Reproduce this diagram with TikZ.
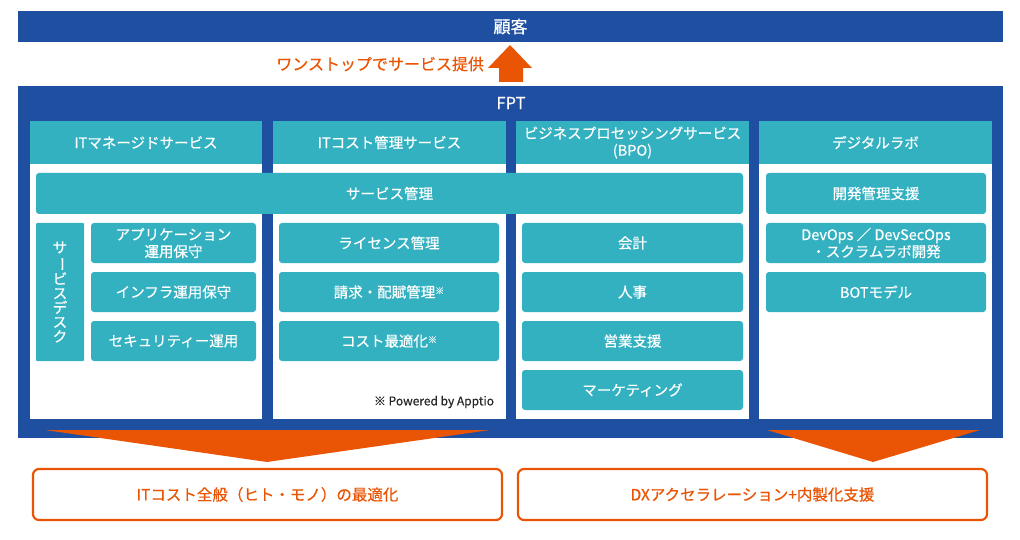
\documentclass[tikz,border=0pt]{standalone}
\usepackage{fontspec}
\usepackage{graphicx}
\setmainfont[FakeBold=0.5]{Noto Sans CJK JP}
\definecolor{fptblue}{HTML}{1F4FA0}
\definecolor{fptteal}{HTML}{33B1C1}
\definecolor{fptorange}{HTML}{E95504}
\newcommand\bx[7]{%
  \pgfmathsetmacro\bxcx{(#3+#5)/2}%
  \pgfmathsetmacro\bxcy{(#4+#6)/2}%
  \pgfmathsetmacro\bxw{#5-#3}%
  \pgfmathsetmacro\bxh{#6-#4}%
  \node[#2, minimum width=\bxw pt, minimum height=\bxh pt] (#1) at (\bxcx,\bxcy) {#7};}
\newcommand\kome{\raisebox{0.45ex}{\fontsize{9}{9}\selectfont ※}}
\tikzset{
  base/.style={inner sep=0pt, outer sep=0pt, align=center},
  bluebar/.style={base, fill=fptblue, text=white, font=\fontsize{17}{19}\selectfont},
  whitecol/.style={base, fill=white},
  header/.style={base, fill=fptteal, text=white, font=\fontsize{14.5}{17}\selectfont},
  tbox/.style={base, fill=fptteal, rounded corners=3pt, text=white, font=\fontsize{14.5}{17}\selectfont},
  resultbox/.style={base, draw=fptorange, line width=2.2pt, rounded corners=6pt, fill=white, text=fptorange, font=\fontsize{15.5}{17}\selectfont},
  orangeshape/.style={fill=fptorange}
}
\begin{document}
\begin{tikzpicture}[x=1pt,y=-1pt]
\useasboundingbox (0,0) rectangle (1020,540);
% customer bar
\bx{kokyaku}{bluebar}{18}{11}{1003}{42}{顧客}
% FPT frame
\bx{fpt}{base, fill=fptblue}{18}{86}{1003}{438}{}
\node[base, text=white, font=\fontsize{16.5}{18}\selectfont] (fpttxt) at (511,103) {FPT};
% up arrow
\draw[orangeshape, draw=none] (499,82) -- (499,68) -- (488,68) -- (510,45) -- (532,68) -- (523,68) -- (523,82) -- cycle;
\node[base, anchor=east, text=fptorange, font=\fontsize{16}{18}\selectfont] (onestop) at (484,64) {ワンストップでサービス提供};
% columns
\bx{col1}{whitecol}{30}{121}{262}{419}{}
\bx{col2}{whitecol}{273}{121}{506}{419}{}
\bx{col3}{whitecol}{516}{121}{749}{419}{}
\bx{col4}{whitecol}{759}{121}{992}{419}{}
\bx{h1}{header}{30}{121}{262}{164}{ITマネージドサービス}
\bx{h2}{header}{273}{121}{506}{164}{ITコスト管理サービス}
\bx{h3}{header}{516}{121}{749}{164}{ビジネスプロセッシングサービス\\(BPO)}
\bx{h4}{header}{759}{121}{992}{164}{デジタルラボ}
% service management
\bx{svcmgmt}{tbox}{36}{173}{743}{214}{サービス管理}
% column 1
\bx{desk}{tbox, rounded corners=1pt, font=\fontsize{14.5}{14.4}\selectfont}{36}{223}{84}{361}{サ\\\rotatebox[origin=c]{-90}{ー}\\ビ\\ス\\デ\\ス\\ク}
\bx{app}{tbox}{91}{223}{256}{263}{アプリケーション\\運用保守}
\bx{infra}{tbox}{91}{272}{256}{312}{インフラ運用保守}
\bx{sec}{tbox}{91}{321}{256}{361}{セキュリティー運用}
% column 2
\bx{lic}{tbox}{279}{223}{499}{263}{ライセンス管理}
\bx{bill}{tbox}{279}{272}{499}{312}{請求・配賦管理\kome}
\bx{cost}{tbox}{279}{321}{499}{361}{コスト最適化\kome}
\node[base, anchor=east, text=black!85, font=\fontsize{12}{14}\selectfont] (apptio) at (494,402) {※ Powered by Apptio};
% column 3
\bx{acc}{tbox}{522}{223}{743}{263}{会計}
\bx{hr}{tbox}{522}{272}{743}{312}{人事}
\bx{sales}{tbox}{522}{321}{743}{361}{営業支援}
\bx{mkt}{tbox}{522}{370}{743}{410}{マーケティング}
% column 4
\bx{dev}{tbox}{766}{173}{986}{214}{開発管理支援}
\bx{devops}{tbox}{766}{223}{986}{263}{DevOps ／ DevSecOps\\・スクラムラボ開発}
\bx{bot}{tbox}{766}{272}{986}{312}{BOTモデル}
% down triangles
\draw[orangeshape, draw=none] (45,430) -- (490,430) -- (267,462) -- cycle;
\draw[orangeshape, draw=none] (767,430) -- (980,430) -- (873,462) -- cycle;
% result boxes
\bx{res1}{resultbox}{33}{469}{502}{520}{ITコスト全般（ヒト・モノ）の最適化}
\bx{res2}{resultbox}{518}{469}{987}{520}{DXアクセラレーション+内製化支援}
\end{tikzpicture}
\end{document}
